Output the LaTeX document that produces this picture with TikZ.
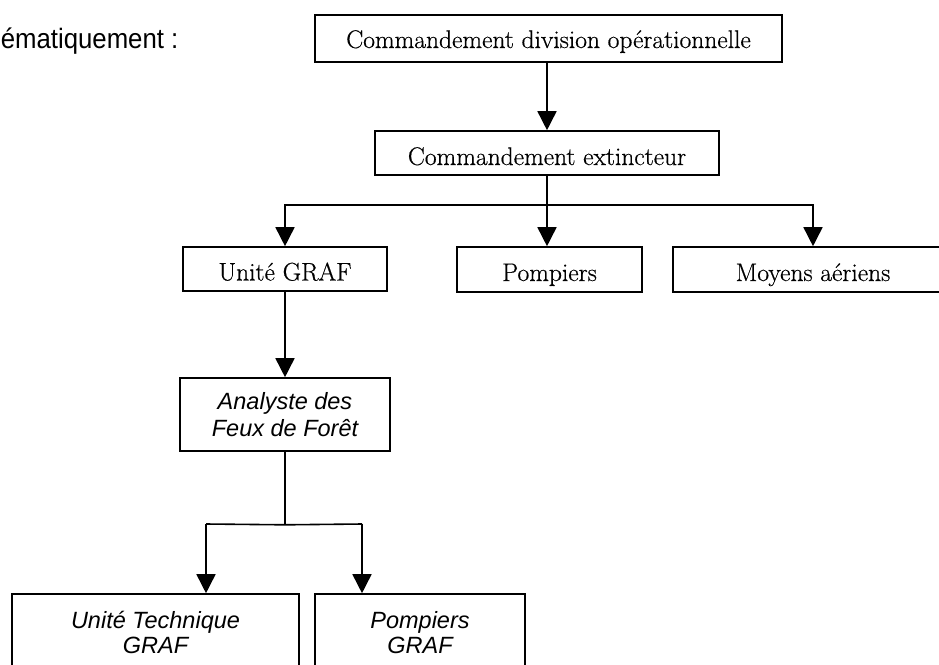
\documentclass[tikz,border=0pt]{standalone}
\usepackage{fontspec}
\newfontfamily\arialf{Liberation Sans}
\newfontfamily\seriff[FakeBold=0.5]{Latin Modern Roman}
\usetikzlibrary{arrows.meta}
\begin{document}
\begin{tikzpicture}[x=1pt,y=-1pt,line width=1.6pt,
  box/.style={draw,rectangle,inner sep=0pt,text depth=0pt,font=\seriff\fontsize{25.5}{28}\selectfont},
  ibox/.style={draw,rectangle,inner sep=0pt,align=center,font=\arialf\itshape\fontsize{23.5}{27}\selectfont},
  itxt/.style={inner sep=0pt,anchor=base,font=\arialf\itshape\fontsize{23.5}{27}\selectfont},
  arr/.style={-{Triangle[width=19pt,length=19pt]}}]
\useasboundingbox (0,0) rectangle (939,664);
\clip (0,0) rectangle (939,664);

% title fragment
\node[inner sep=0pt,anchor=base west,font=\arialf\fontsize{28}{30}\selectfont] (title) at (0,48) {\scalebox{0.92}[1]{ématiquement :}};

% level 1 and 2
\node[box,minimum width=467pt,minimum height=47pt,text height=19pt] (cdo) at (548.5,38.5) {Commandement division opérationnelle};
\node[box,minimum width=344pt,minimum height=44pt,text height=24pt] (ce) at (547,153) {Commandement extincteur};

% level 3
\node[box,minimum width=204pt,minimum height=44pt,text height=23pt] (ug) at (285,269) {Unité GRAF};
\node[box,minimum width=185pt,minimum height=45pt,text height=23pt] (pomp) at (549.5,269.5) {Pompiers};
\node[box,minimum width=280pt,minimum height=45pt,text height=23pt] (moy) at (813,269.5) {Moyens aériens};

% level 4
\node[ibox,minimum width=210pt,minimum height=73pt] (afdf) at (285,414.5) {Analyste des\\Feux de Forêt};

% level 5 (boxes run off the bottom edge)
\node[draw,rectangle,minimum width=287pt,minimum height=100pt] (utg) at (155.5,644) {};
\node[draw,rectangle,minimum width=210pt,minimum height=100pt] (pg) at (420,644) {};
\node[itxt] (utgA) at (155.5,628) {Unité Technique};
\node[itxt] (utgB) at (155.5,653) {GRAF};
\node[itxt] (pgA) at (420,628) {Pompiers};
\node[itxt] (pgB) at (420,653) {GRAF};

% connectors
\draw[arr] (cdo.south -| ce.north) -- (ce.north);
\draw (ce.south) -- ++(0,29) coordinate (j1);
\draw[arr] (j1) -- (j1 |- pomp.north);
\draw[arr] (j1) -| (ug.north);
\draw[arr] (j1) -| (moy.north);
\draw[arr] (ug.south) -- (afdf.north);
\draw (afdf.south) -- ++(0,73) coordinate (j2);
\coordinate (l2) at (206,524);
\coordinate (r2) at (362,524);
\draw (j2) -- (l2);
\draw (j2) -- (r2);
\draw[arr] (l2) -- (l2 |- utg.north);
\draw[arr] (r2) -- (r2 |- pg.north);
\end{tikzpicture}
\end{document}
